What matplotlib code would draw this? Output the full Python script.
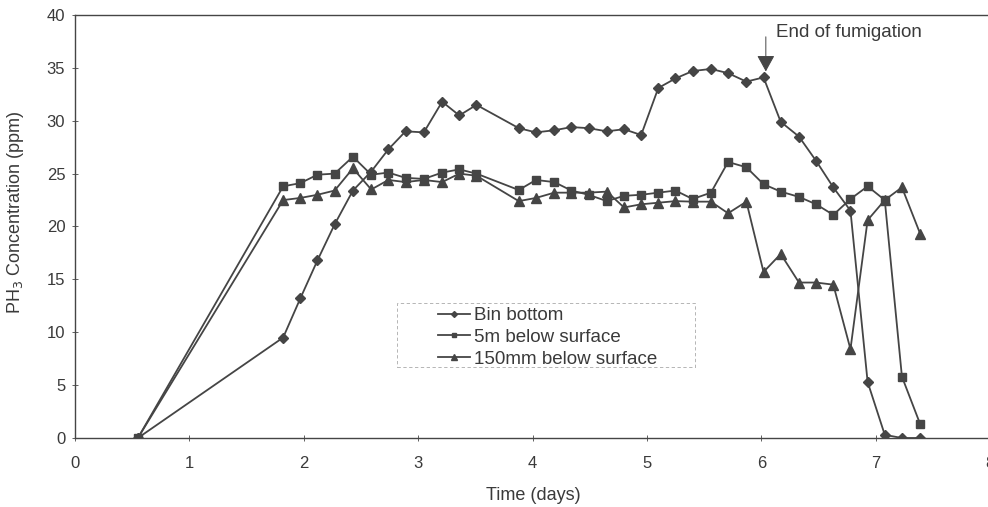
import matplotlib.pyplot as plt
from matplotlib.patches import Rectangle

plt.rcParams['font.family'] = ['Liberation Sans', 'DejaVu Sans']

# sampling times (days) shared by all three probes
days = [0.55, 1.82, 1.97, 2.12, 2.27, 2.43, 2.59, 2.74, 2.89, 3.05, 3.21, 3.36, 3.51,
        3.88, 4.03, 4.19, 4.34, 4.49, 4.65, 4.80, 4.95, 5.10, 5.25, 5.40, 5.56, 5.71,
        5.87, 6.02, 6.17, 6.33, 6.48, 6.63, 6.78, 6.93, 7.08, 7.23, 7.39]

bin_bottom = [0, 9.5, 13.2, 16.8, 20.2, 23.4, 25.2, 27.3, 29.0, 28.9, 31.8, 30.5, 31.5,
              29.3, 28.9, 29.1, 29.4, 29.3, 29.0, 29.2, 28.65, 33.1, 34.0, 34.7, 34.9, 34.5,
              33.7, 34.1, 29.9, 28.5, 26.2, 23.7, 21.5, 5.3, 0.3, 0.0, 0.0]

below_5m = [0, 23.8, 24.1, 24.9, 25.0, 26.6, 24.9, 25.1, 24.6, 24.5, 25.1, 25.4, 25.0,
            23.45, 24.4, 24.2, 23.4, 23.0, 22.4, 22.9, 23.0, 23.2, 23.4, 22.6, 23.2, 26.1,
            25.6, 24.0, 23.3, 22.8, 22.1, 21.1, 22.6, 23.8, 22.5, 5.8, 1.3]

below_150mm = [0, 22.5, 22.7, 23.0, 23.4, 25.5, 23.5, 24.4, 24.2, 24.4, 24.2, 25.0, 24.8,
               22.4, 22.7, 23.2, 23.2, 23.2, 23.3, 21.8, 22.1, 22.25, 22.4, 22.35, 22.35, 21.25,
               22.35, 15.7, 17.4, 14.7, 14.7, 14.5, 8.4, 20.6, 22.5, 23.7, 19.3]

series_labels = ["Bin bottom", "5m below surface", "150mm below surface"]

end_day = 6.04
end_conc = 34.4

ink = '#454545'
txt = '#3a3a3a'

fig = plt.figure(figsize=(9.88, 5.07), dpi=100)
ax = fig.add_axes([75 / 988, 1 - 438 / 507, 915 / 988, 423 / 507])

ax.plot(days, bin_bottom, color=ink, lw=1.3, marker='D', ms=5, label=series_labels[0])
ax.plot(days, below_5m, color=ink, lw=1.3, marker='s', ms=6, label=series_labels[1])
ax.plot(days, below_150mm, color=ink, lw=1.3, marker='^', ms=6.5, label=series_labels[2])

ax.set_xlim(0, 8)
ax.set_ylim(0, 40)
ax.set_xticks(range(0, 9))
ax.set_yticks(range(0, 41, 5))
ax.tick_params(direction='inout', length=4, width=0.6, colors=ink, labelcolor=txt,
               labelsize=12, pad=11)
ax.tick_params(axis='y', pad=5)
for s in ax.spines.values():
    s.set_color(ink)
    s.set_linewidth(1.0)

ax.set_xlabel("Time (days)", fontsize=13, color=txt)
ax.xaxis.set_label_coords((533 - 75) / 915, -(487 - 438) / 423)
ax.set_ylabel("PH$_3$ Concentration (ppm)", fontsize=13, color=txt)
ax.yaxis.set_label_coords(-(75 - 26) / 915, (438 - 212) / 423)

ax.annotate('', xy=(end_day, end_conc), xytext=(end_day, 38.2),
            arrowprops=dict(arrowstyle='-|>,head_length=1.0,head_width=0.55',
                            color=ink, lw=0.7))
ax.text(6.13, 38.3, "End of fumigation", fontsize=13.5, color=txt, va='center', ha='left')

leg = ax.legend(loc='upper left', bbox_to_anchor=((438 - 75) / 915, (438 - 307) / 423),
                fontsize=13.5, frameon=False, handlelength=1.7, handletextpad=0.2,
                markerscale=0.6, labelspacing=0.25, borderpad=0, borderaxespad=0)
for t in leg.get_texts():
    t.set_color(txt)

ax.add_patch(Rectangle(((397 - 75) / 915, (438 - 367) / 423), 298 / 915, 64 / 423,
                       transform=ax.transAxes, fill=False, edgecolor='#aaaaaa',
                       lw=0.6, linestyle=(0, (4, 3))))

fig.savefig("out.png", dpi=100)
